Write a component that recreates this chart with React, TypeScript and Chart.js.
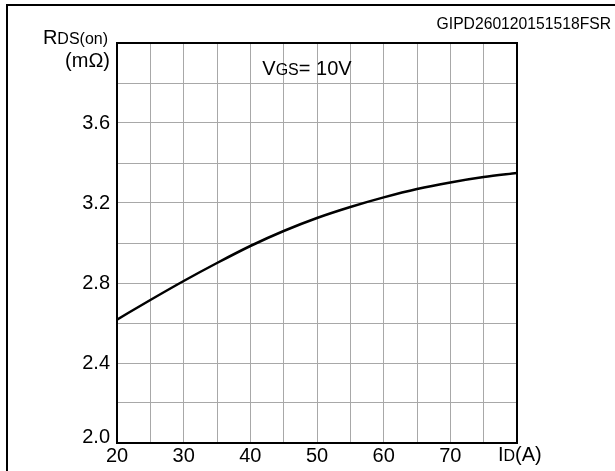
import { useEffect, useRef } from 'react';
import { Chart, registerables } from 'chart.js';

Chart.register(...registerables);

const currents = [20, 25, 30, 35, 40, 45, 50, 55, 60, 65, 70, 75, 80];
const resistance = [2.617, 2.715, 2.81, 2.9, 2.985, 3.06, 3.125, 3.18, 3.228, 3.27, 3.303, 3.33, 3.35];
const xLabelValues = [20, 30, 40, 50, 60, 70];
const yLabelValues = [2.0, 2.4, 2.8, 3.2, 3.6];
const chartCode = 'GIPD260120151518FSR';

const FONT = '"Liberation Sans", Arial, sans-serif';

type Part = [string, number];

function drawParts(ctx: CanvasRenderingContext2D, x: number, y: number, parts: Part[], align: 'left' | 'right' = 'left') {
  let total = 0;
  for (const [t, s] of parts) {
    ctx.font = `${s}px ${FONT}`;
    total += ctx.measureText(t).width;
  }
  let cx = align === 'right' ? x - total : x;
  ctx.textAlign = 'left';
  ctx.textBaseline = 'alphabetic';
  for (const [t, s] of parts) {
    ctx.font = `${s}px ${FONT}`;
    ctx.fillText(t, cx, y);
    cx += ctx.measureText(t).width;
  }
}

const decorPlugin = {
  id: 'decor',
  beforeDatasetsDraw(chart: any) {
    const { ctx, chartArea } = chart;
    ctx.save();
    ctx.strokeStyle = '#000';
    ctx.lineWidth = 2;
    ctx.strokeRect(chartArea.left, chartArea.top, chartArea.right - chartArea.left, chartArea.bottom - chartArea.top);
    ctx.restore();
  },
  afterDraw(chart: any) {
    const { ctx, chartArea } = chart;
    const xs = chart.scales.x;
    ctx.save();
    // outer frame (left and top edges visible)
    ctx.strokeStyle = '#000';
    ctx.lineWidth = 2;
    ctx.beginPath();
    ctx.moveTo(7, 471);
    ctx.lineTo(7, 5);
    ctx.lineTo(615, 5);
    ctx.stroke();

    ctx.fillStyle = '#000';
    // code
    drawParts(ctx, 611, 29, [[chartCode, 15.7]], 'right');
    // y axis title
    drawParts(ctx, chartArea.left - 9, 44, [['R', 20], ['DS(on)', 16]], 'right');
    drawParts(ctx, chartArea.left - 7, 66.5, [['(mΩ)', 20]], 'right');
    // condition
    drawParts(ctx, xs.getPixelForValue(41.8), 75, [['V', 20], ['GS', 16], ['= 10V', 20]]);
    // x axis title
    drawParts(ctx, xs.getPixelForValue(80) - 19, 461, [['I', 20], ['D', 16], ['(A)', 20]]);
    ctx.restore();
  },
};

export default function App() {
  const ref = useRef<HTMLCanvasElement>(null);

  useEffect(() => {
    if (!ref.current) return;
    const chart = new Chart(ref.current, {
      type: 'line',
      data: {
        datasets: [
          {
            data: currents.map((x, i) => ({ x, y: resistance[i] })),
            borderColor: '#000',
            borderWidth: 2.5,
            pointRadius: 0,
            tension: 0.4,
            cubicInterpolationMode: 'monotone',
            fill: false,
          },
        ],
      },
      options: {
        responsive: false,
        animation: false,
        layout: { padding: { left: 0, top: 43, right: 98, bottom: 0 } },
        plugins: { legend: { display: false }, tooltip: { enabled: false }, title: { display: false } },
        scales: {
          x: {
            type: 'linear',
            min: 20,
            max: 80,
            afterFit: (s: any) => {
              s.height = 28;
            },
            grid: { color: '#a8a8a8', lineWidth: 1, drawTicks: false },
            border: { display: false },
            ticks: {
              stepSize: 5,
              autoSkip: false,
              maxRotation: 0,
              padding: 1,
              color: '#000',
              font: { family: FONT, size: 20 },
              callback: (v: any) => (xLabelValues.includes(Number(v)) ? String(v) : ''),
            },
          },
          y: {
            type: 'linear',
            min: 2.0,
            max: 4.0,
            afterFit: (s: any) => {
              s.width = 117;
            },
            grid: { color: '#a8a8a8', lineWidth: 1, drawTicks: false },
            border: { display: false },
            ticks: {
              stepSize: 0.2,
              autoSkip: false,
              padding: 7,
              color: '#000',
              font: { family: FONT, size: 20, lineHeight: 0.6 },
              callback: (v: any) => {
                const n = Number(v);
                const hit = yLabelValues.find((l) => Math.abs(l - n) < 1e-6);
                if (hit === undefined) return '';
                const t = hit.toFixed(1);
                return hit === yLabelValues[0] ? [t, ''] : t;
              },
            },
          },
        },
      },
      plugins: [decorPlugin],
    } as any);
    return () => chart.destroy();
  }, []);

  return (
    <div style={{ position: 'fixed', left: 0, top: 0, width: 615, height: 471, background: '#fff' }}>
      <canvas ref={ref} width={615} height={471} style={{ display: 'block' }} />
    </div>
  );
}
